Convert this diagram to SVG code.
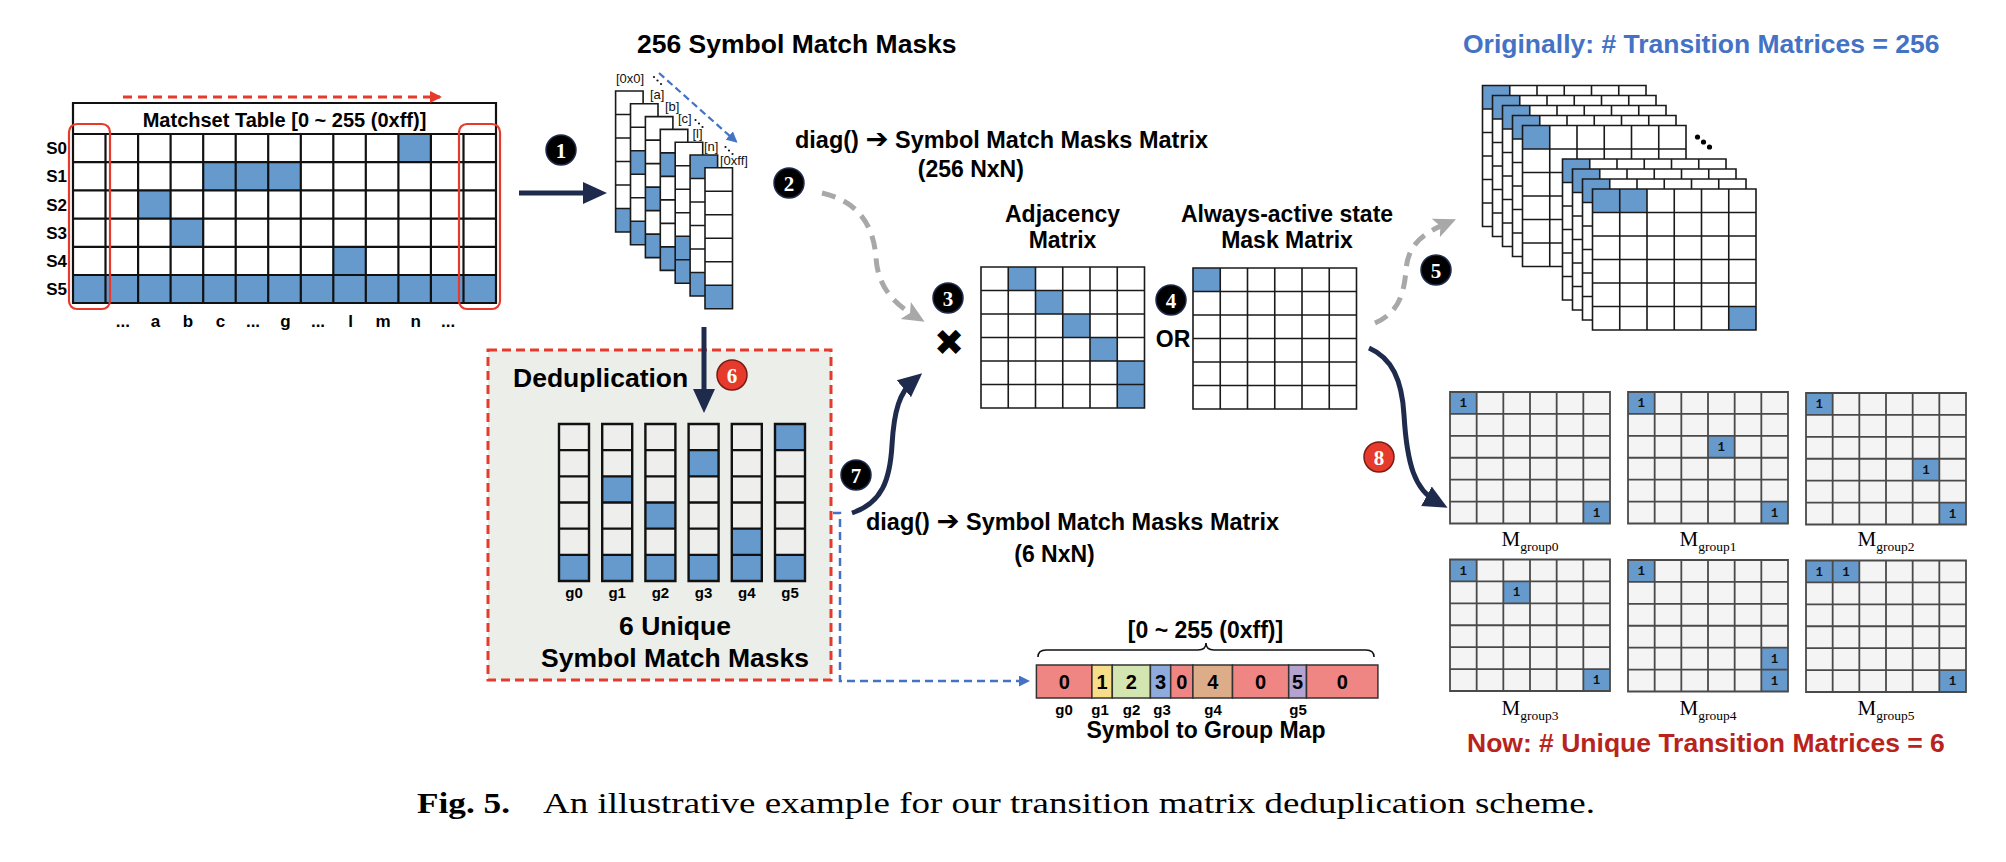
<svg xmlns="http://www.w3.org/2000/svg" xmlns:xlink="http://www.w3.org/1999/xlink" width="2006" height="862" viewBox="0 0 2006 862">
<style>
.b{font-family:"Liberation Sans",Arial,sans-serif;font-weight:bold;fill:#000}
.t26{font-size:26.5px}
.t23{font-size:23px}
.t20{font-size:20px}
.t17{font-size:17px}
.t15{font-size:15px}
.lbl{font-family:"Liberation Sans",Arial,sans-serif;font-size:13px;fill:#111}
.num{font-family:"Liberation Serif","Times New Roman",serif;font-weight:bold;font-size:21px;fill:#fff;text-anchor:middle}
.one{font-family:"Liberation Mono","Courier New",monospace;font-weight:bold;font-size:12px;fill:#111;text-anchor:middle}
.ms{font-family:"Liberation Serif","Times New Roman",serif;fill:#000;text-anchor:middle}
.arr{font-family:"DejaVu Sans",sans-serif;font-size:27px;font-weight:bold}
.blue{fill:#6699CC}
.w{fill:#fff}
.mc{fill:#F4F4F4}
.gline{fill:none;stroke:#1a1a1a;stroke-width:1.6}
.mline{fill:none;stroke:#4a4a4a;stroke-width:1.8}
.cline{fill:none;stroke:#111;stroke-width:2.4}
.mid{text-anchor:middle}
.navy{fill:none;stroke:#1F2B4D;stroke-width:5}
.gray{fill:none;stroke:#A8A8A8;stroke-width:5;stroke-dasharray:14 9}
</style>
<defs>
<path id="grid6" class="gline" d="M27.25,0V141M54.5,0V141M81.75,0V141M109,0V141M136.25,0V141M0,23.5H163.5M0,47H163.5M0,70.5H163.5M0,94H163.5M0,117.5H163.5M0,0H163.5V141H0Z"/>
<path id="gridM" class="mline" d="M26.67,0V131.5M53.33,0V131.5M80,0V131.5M106.67,0V131.5M133.33,0V131.5M0,21.92H160M0,43.83H160M0,65.75H160M0,87.67H160M0,109.58H160M0,0H160V131.5H0Z"/>
<path id="col7" class="gline" d="M0,23.5H27.5M0,47H27.5M0,70.5H27.5M0,94H27.5M0,117.5H27.5M0,0H27.5V141H0Z"/>
<path id="colg" class="cline" d="M0,26.17H30M0,52.33H30M0,78.5H30M0,104.67H30M0,130.83H30M0,0H30V157H0Z"/>
<marker id="hNavy" markerUnits="userSpaceOnUse" markerWidth="24" markerHeight="24" viewBox="0 0 24 24" refX="12" refY="12" orient="auto"><path d="M0,1L24,12L0,23Z" fill="#1F2B4D"/></marker>
<marker id="hGray" markerUnits="userSpaceOnUse" markerWidth="22" markerHeight="22" viewBox="0 0 22 22" refX="10" refY="11" orient="auto"><path d="M0,1L22,11L0,21L5,11Z" fill="#A8A8A8"/></marker>
<marker id="hRed" markerUnits="userSpaceOnUse" markerWidth="12" markerHeight="12" viewBox="0 0 12 12" refX="10" refY="6" orient="auto"><path d="M0,0L12,6L0,12Z" fill="#E53A2C"/></marker>
<marker id="hBlue" markerUnits="userSpaceOnUse" markerWidth="11" markerHeight="11" viewBox="0 0 11 11" refX="9" refY="5.5" orient="auto"><path d="M0,0L11,5.5L0,11Z" fill="#4472C4"/></marker>
</defs>
<rect width="2006" height="862" fill="#fff"/>

<!-- Matchset table -->
<g id="matchset">
<rect x="73" y="103" width="423" height="200" class="w"/>
<rect x="398.4" y="134" width="32.5" height="28.2" class="blue"/>
<rect x="203.2" y="162.2" width="97.6" height="28.2" class="blue"/>
<rect x="138.1" y="190.4" width="32.5" height="28.2" class="blue"/>
<rect x="170.6" y="218.6" width="32.5" height="28.2" class="blue"/>
<rect x="333.3" y="246.8" width="32.5" height="28.2" class="blue"/>
<rect x="73" y="275" width="423" height="28" class="blue"/>
<path fill="none" stroke="#111" stroke-width="2.2" d="M73,134H496M73,162.2H496M73,190.4H496M73,218.6H496M73,246.8H496M73,275H496M105.5,134V303M138.1,134V303M170.6,134V303M203.2,134V303M235.7,134V303M268.2,134V303M300.8,134V303M333.3,134V303M365.8,134V303M398.4,134V303M430.9,134V303M463.5,134V303M73,103H496V303H73Z"/>
<text x="284.5" y="127" class="b t20 mid">Matchset Table [0 ~ 255 (0xff)]</text>
<g class="b t17" text-anchor="end">
<text x="67" y="154">S0</text><text x="67" y="182">S1</text><text x="67" y="210.5">S2</text><text x="67" y="238.5">S3</text><text x="67" y="267">S4</text><text x="67" y="295">S5</text>
</g>
<g class="b t17 mid">
<text x="122.8" y="327">...</text><text x="155.4" y="327">a</text><text x="187.9" y="327">b</text><text x="220.4" y="327">c</text><text x="253" y="327">...</text><text x="285.5" y="327">g</text><text x="318" y="327">...</text><text x="350.6" y="327">l</text><text x="383.1" y="327">m</text><text x="415.7" y="327">n</text><text x="448.2" y="327">...</text>
</g>
<rect x="69" y="124" width="41" height="185" rx="8" fill="none" stroke="#E53A2C" stroke-width="2.2"/>
<rect x="459" y="124" width="41" height="185" rx="8" fill="none" stroke="#E53A2C" stroke-width="2.2"/>
</g>

<!-- 256 symbol match masks -->
<g id="masks256">
<text x="637" y="53" class="b t26">256 Symbol Match Masks</text>
<rect x="615.6" y="91" width="27.5" height="141" class="w"/><rect x="615.6" y="208.5" width="27.5" height="23.5" class="blue"/><use xlink:href="#col7" x="615.6" y="91"/>
<rect x="630.5" y="103.8" width="27.5" height="141" class="w"/><rect x="630.5" y="150.8" width="27.5" height="23.5" class="blue"/><rect x="630.5" y="221.3" width="27.5" height="23.5" class="blue"/><use xlink:href="#col7" x="630.5" y="103.8"/>
<rect x="645.4" y="116.6" width="27.5" height="141" class="w"/><rect x="645.4" y="187.1" width="27.5" height="23.5" class="blue"/><rect x="645.4" y="234.1" width="27.5" height="23.5" class="blue"/><use xlink:href="#col7" x="645.4" y="116.6"/>
<rect x="660.3" y="129.4" width="27.5" height="141" class="w"/><rect x="660.3" y="152.9" width="27.5" height="23.5" class="blue"/><rect x="660.3" y="246.9" width="27.5" height="23.5" class="blue"/><use xlink:href="#col7" x="660.3" y="129.4"/>
<rect x="675.2" y="142.2" width="27.5" height="141" class="w"/><rect x="675.2" y="236.2" width="27.5" height="23.5" class="blue"/><rect x="675.2" y="259.7" width="27.5" height="23.5" class="blue"/><use xlink:href="#col7" x="675.2" y="142.2"/>
<rect x="690.1" y="155" width="27.5" height="141" class="w"/><rect x="690.1" y="155" width="27.5" height="23.5" class="blue"/><rect x="690.1" y="272.5" width="27.5" height="23.5" class="blue"/><use xlink:href="#col7" x="690.1" y="155"/>
<rect x="705" y="167.8" width="27.5" height="141" class="w"/><rect x="705" y="285.3" width="27.5" height="23.5" class="blue"/><use xlink:href="#col7" x="705" y="167.8"/>
<text x="616" y="83" class="lbl">[0x0]</text>
<text x="650" y="99" class="lbl">[a]</text>
<text x="665" y="111" class="lbl">[b]</text>
<text x="678" y="123" class="lbl">[c]</text>
<text x="692.5" y="138" class="lbl">[l]</text>
<text x="704" y="151" class="lbl">[n]</text>
<text x="720" y="165" class="lbl">[0xff]</text>
<g fill="#111"><circle cx="654" cy="77" r="1.1"/><circle cx="657.5" cy="80.5" r="1.1"/><circle cx="661" cy="84" r="1.1"/><circle cx="695.5" cy="120" r="1.1"/><circle cx="699" cy="123.5" r="1.1"/><circle cx="702.5" cy="127" r="1.1"/><circle cx="725.5" cy="147" r="1.1"/><circle cx="729" cy="150.5" r="1.1"/><circle cx="732.5" cy="154" r="1.1"/></g>
</g>

<!-- Adjacency matrix -->
<g id="adjacency">
<text x="1062.5" y="222" class="b t23 mid">Adjacency</text>
<text x="1062.5" y="248" class="b t23 mid">Matrix</text>
<rect x="981" y="267" width="163.5" height="141" class="w"/>
<rect x="1008.25" y="267" width="27.25" height="23.5" class="blue"/>
<rect x="1035.5" y="290.5" width="27.25" height="23.5" class="blue"/>
<rect x="1062.75" y="314" width="27.25" height="23.5" class="blue"/>
<rect x="1090" y="337.5" width="27.25" height="23.5" class="blue"/>
<rect x="1117.25" y="361" width="27.25" height="23.5" class="blue"/>
<rect x="1117.25" y="384.5" width="27.25" height="23.5" class="blue"/>
<use xlink:href="#grid6" x="981" y="267"/>
</g>

<!-- Always-active mask matrix -->
<g id="maskmatrix">
<text x="1287" y="222" class="b t23 mid">Always-active state</text>
<text x="1287" y="248" class="b t23 mid">Mask Matrix</text>
<rect x="1193" y="268" width="163.5" height="141" class="w"/>
<rect x="1193" y="268" width="27.25" height="23.5" class="blue"/>
<use xlink:href="#grid6" x="1193" y="268"/>
</g>

<!-- operators -->
<g id="operators">
<text x="949" y="355" class="mid" font-family="DejaVu Sans,sans-serif" font-size="36" fill="#000">✖</text>
<text x="1173" y="347" class="b t23 mid">OR</text>
</g>

<!-- Original 256 transition matrices -->
<g id="original">
<text x="1463" y="53" class="b t26" style="fill:#4472C4">Originally: # Transition Matrices = 256</text>
<rect x="1482.5" y="85.5" width="163.5" height="141" class="w"/><rect x="1482.5" y="85.5" width="27.25" height="23.5" class="blue"/><use xlink:href="#grid6" x="1482.5" y="85.5"/>
<rect x="1492.5" y="95.5" width="163.5" height="141" class="w"/><rect x="1492.5" y="95.5" width="27.25" height="23.5" class="blue"/><use xlink:href="#grid6" x="1492.5" y="95.5"/>
<rect x="1502.5" y="105.5" width="163.5" height="141" class="w"/><rect x="1502.5" y="105.5" width="27.25" height="23.5" class="blue"/><use xlink:href="#grid6" x="1502.5" y="105.5"/>
<rect x="1512.5" y="115.5" width="163.5" height="141" class="w"/><rect x="1512.5" y="115.5" width="27.25" height="23.5" class="blue"/><use xlink:href="#grid6" x="1512.5" y="115.5"/>
<rect x="1522.5" y="125.5" width="163.5" height="141" class="w"/><rect x="1522.5" y="125.5" width="27.25" height="23.5" class="blue"/><use xlink:href="#grid6" x="1522.5" y="125.5"/>
<g fill="#000"><circle cx="1697.5" cy="137" r="2.6"/><circle cx="1703.5" cy="142" r="2.6"/><circle cx="1709.5" cy="147" r="2.6"/></g>
<rect x="1562.5" y="159" width="163.5" height="141" class="w"/><rect x="1562.5" y="159" width="27.25" height="23.5" class="blue"/><use xlink:href="#grid6" x="1562.5" y="159"/>
<rect x="1572.5" y="169" width="163.5" height="141" class="w"/><rect x="1572.5" y="169" width="27.25" height="23.5" class="blue"/><use xlink:href="#grid6" x="1572.5" y="169"/>
<rect x="1582.5" y="179" width="163.5" height="141" class="w"/><rect x="1582.5" y="179" width="27.25" height="23.5" class="blue"/><use xlink:href="#grid6" x="1582.5" y="179"/>
<rect x="1592.5" y="189" width="163.5" height="141" class="w"/><rect x="1592.5" y="189" width="54.5" height="23.5" class="blue"/><rect x="1728.75" y="306.5" width="27.25" height="23.5" class="blue"/><use xlink:href="#grid6" x="1592.5" y="189"/>
</g>

<!-- Deduplication box -->
<g id="dedup">
<rect x="488" y="350" width="343" height="330" fill="#ECEEEA" stroke="#E53A2C" stroke-width="3" stroke-dasharray="9 5"/>
<text x="513" y="387" class="b t26">Deduplication</text>
<rect x="559" y="424" width="30" height="157" fill="#EEEFEC"/><rect x="559" y="554.83" width="30" height="26.17" class="blue"/><use xlink:href="#colg" x="559" y="424"/>
<rect x="602.2" y="424" width="30" height="157" fill="#EEEFEC"/><rect x="602.2" y="476.33" width="30" height="26.17" class="blue"/><rect x="602.2" y="554.83" width="30" height="26.17" class="blue"/><use xlink:href="#colg" x="602.2" y="424"/>
<rect x="645.4" y="424" width="30" height="157" fill="#EEEFEC"/><rect x="645.4" y="502.5" width="30" height="26.17" class="blue"/><rect x="645.4" y="554.83" width="30" height="26.17" class="blue"/><use xlink:href="#colg" x="645.4" y="424"/>
<rect x="688.6" y="424" width="30" height="157" fill="#EEEFEC"/><rect x="688.6" y="450.17" width="30" height="26.17" class="blue"/><rect x="688.6" y="554.83" width="30" height="26.17" class="blue"/><use xlink:href="#colg" x="688.6" y="424"/>
<rect x="731.8" y="424" width="30" height="157" fill="#EEEFEC"/><rect x="731.8" y="528.67" width="30" height="26.17" class="blue"/><rect x="731.8" y="554.83" width="30" height="26.17" class="blue"/><use xlink:href="#colg" x="731.8" y="424"/>
<rect x="775" y="424" width="30" height="157" fill="#EEEFEC"/><rect x="775" y="424" width="30" height="26.17" class="blue"/><rect x="775" y="554.83" width="30" height="26.17" class="blue"/><use xlink:href="#colg" x="775" y="424"/>
<g class="b t15 mid"><text x="574" y="598">g0</text><text x="617.2" y="598">g1</text><text x="660.4" y="598">g2</text><text x="703.6" y="598">g3</text><text x="746.8" y="598">g4</text><text x="790" y="598">g5</text></g>
<text x="675" y="635" class="b t26 mid">6 Unique</text>
<text x="675" y="667" class="b t26 mid">Symbol Match Masks</text>
</g>

<!-- diag labels -->
<g id="diag256">
<text x="795" y="148" class="b t23" textLength="413" lengthAdjust="spacingAndGlyphs">diag() <tspan class="arr">➔</tspan> Symbol Match Masks Matrix</text>
<text x="970.8" y="177" class="b t23 mid">(256 NxN)</text>
</g>
<g id="diag6">
<text x="866" y="530" class="b t23" textLength="413" lengthAdjust="spacingAndGlyphs">diag() <tspan class="arr">➔</tspan> Symbol Match Masks Matrix</text>
<text x="1054.5" y="562" class="b t23 mid">(6 NxN)</text>
</g>

<!-- Symbol to group map -->
<g id="groupmap">
<text x="1205.5" y="638" class="b t23 mid">[0 ~ 255 (0xff)]</text>
<path d="M1038,657Q1038,650 1046,650L1198,650Q1206,650 1206,643Q1206,650 1214,650L1366,650Q1374,650 1374,657" fill="none" stroke="#111" stroke-width="1.6"/>
<g stroke="#333" stroke-width="1.5">
<rect x="1036.4" y="665" width="55.5" height="33" fill="#EF8683"/>
<rect x="1091.9" y="665" width="20.4" height="33" fill="#F9DE89"/>
<rect x="1112.3" y="665" width="38.1" height="33" fill="#D3E6B1"/>
<rect x="1150.4" y="665" width="20.3" height="33" fill="#8FAADC"/>
<rect x="1170.7" y="665" width="22.2" height="33" fill="#EF8683"/>
<rect x="1192.9" y="665" width="39.6" height="33" fill="#DDAD8A"/>
<rect x="1232.5" y="665" width="56.2" height="33" fill="#EF8683"/>
<rect x="1288.7" y="665" width="17.8" height="33" fill="#B4A3D0"/>
<rect x="1306.5" y="665" width="71.4" height="33" fill="#EF8683"/>
</g>
<g class="b t20 mid">
<text x="1064.2" y="689">0</text><text x="1102.1" y="689">1</text><text x="1131.4" y="689">2</text><text x="1160.6" y="689">3</text><text x="1181.8" y="689">0</text><text x="1212.7" y="689">4</text><text x="1260.6" y="689">0</text><text x="1297.6" y="689">5</text><text x="1342.2" y="689">0</text>
</g>
<g class="b t15 mid"><text x="1064" y="715">g0</text><text x="1100" y="715">g1</text><text x="1131.5" y="715">g2</text><text x="1162" y="715">g3</text><text x="1213" y="715">g4</text><text x="1298" y="715">g5</text></g>
<text x="1206" y="738" class="b t23 mid">Symbol to Group Map</text>
</g>

<!-- Unique transition matrices -->
<g id="mgroup0">
<rect x="1450" y="392" width="160" height="131.5" class="mc"/>
<rect x="1450" y="392" width="26.67" height="21.92" class="blue"/><rect x="1583.33" y="501.58" width="26.67" height="21.92" class="blue"/>
<use xlink:href="#gridM" x="1450" y="392"/>
<text x="1463.3" y="407" class="one">1</text><text x="1596.7" y="516.5" class="one">1</text>
<text x="1530" y="546" class="ms" font-size="21">M<tspan font-size="13.5" dy="5">group0</tspan></text>
</g>
<g id="mgroup1">
<rect x="1628" y="392" width="160" height="131.5" class="mc"/>
<rect x="1628" y="392" width="26.67" height="21.92" class="blue"/><rect x="1708" y="435.83" width="26.67" height="21.92" class="blue"/><rect x="1761.33" y="501.58" width="26.67" height="21.92" class="blue"/>
<use xlink:href="#gridM" x="1628" y="392"/>
<text x="1641.3" y="407" class="one">1</text><text x="1721.3" y="450.8" class="one">1</text><text x="1774.7" y="516.5" class="one">1</text>
<text x="1708" y="546" class="ms" font-size="21">M<tspan font-size="13.5" dy="5">group1</tspan></text>
</g>
<g id="mgroup2">
<rect x="1806" y="393" width="160" height="131.5" class="mc"/>
<rect x="1806" y="393" width="26.67" height="21.92" class="blue"/><rect x="1912.67" y="458.75" width="26.67" height="21.92" class="blue"/><rect x="1939.33" y="502.58" width="26.67" height="21.92" class="blue"/>
<use xlink:href="#gridM" x="1806" y="393"/>
<text x="1819.3" y="408" class="one">1</text><text x="1926" y="473.7" class="one">1</text><text x="1952.7" y="517.5" class="one">1</text>
<text x="1886" y="546" class="ms" font-size="21">M<tspan font-size="13.5" dy="5">group2</tspan></text>
</g>
<g id="mgroup3">
<rect x="1450" y="559.5" width="160" height="131.5" class="mc"/>
<rect x="1450" y="559.5" width="26.67" height="21.92" class="blue"/><rect x="1503.33" y="581.42" width="26.67" height="21.92" class="blue"/><rect x="1583.33" y="669.08" width="26.67" height="21.92" class="blue"/>
<use xlink:href="#gridM" x="1450" y="559.5"/>
<text x="1463.3" y="574.5" class="one">1</text><text x="1516.7" y="596.4" class="one">1</text><text x="1596.7" y="684" class="one">1</text>
<text x="1530" y="715" class="ms" font-size="21">M<tspan font-size="13.5" dy="5">group3</tspan></text>
</g>
<g id="mgroup4">
<rect x="1628" y="560" width="160" height="131.5" class="mc"/>
<rect x="1628" y="560" width="26.67" height="21.92" class="blue"/><rect x="1761.33" y="647.67" width="26.67" height="21.92" class="blue"/><rect x="1761.33" y="669.58" width="26.67" height="21.92" class="blue"/>
<use xlink:href="#gridM" x="1628" y="560"/>
<text x="1641.3" y="575" class="one">1</text><text x="1774.7" y="662.6" class="one">1</text><text x="1774.7" y="684.5" class="one">1</text>
<text x="1708" y="715" class="ms" font-size="21">M<tspan font-size="13.5" dy="5">group4</tspan></text>
</g>
<g id="mgroup5">
<rect x="1806" y="560.5" width="160" height="131.5" class="mc"/>
<rect x="1806" y="560.5" width="53.33" height="21.92" class="blue"/><rect x="1939.33" y="670.08" width="26.67" height="21.92" class="blue"/>
<use xlink:href="#gridM" x="1806" y="560.5"/>
<text x="1819.3" y="575.5" class="one">1</text><text x="1846" y="575.5" class="one">1</text><text x="1952.7" y="685" class="one">1</text>
<text x="1886" y="715" class="ms" font-size="21">M<tspan font-size="13.5" dy="5">group5</tspan></text>
</g>
<g id="now">
<text x="1467" y="752" class="b t26" style="fill:#B8241C">Now: # Unique Transition Matrices = 6</text>
</g>

<!-- connectors -->
<g id="connectors">
<path d="M123,97H440" fill="none" stroke="#E53A2C" stroke-width="3" stroke-dasharray="9 6" marker-end="url(#hRed)"/>
<path d="M659,73L736,141.5" fill="none" stroke="#4472C4" stroke-width="2.2" stroke-dasharray="7 4" marker-end="url(#hBlue)"/>
<path d="M519,193H595" class="navy" marker-end="url(#hNavy)"/>
<path d="M704,327V401" class="navy" marker-end="url(#hNavy)"/>
<path d="M822,193C862,202 874,230 876,258C878,288 895,304 914.3,315.6" class="gray" marker-end="url(#hGray)"/>
<path d="M1375,323C1398,313 1404,295 1406,270C1408,245 1422,234 1445,224" class="gray" marker-end="url(#hGray)"/>
<path d="M852,513C882,503 890,480 892,445C894,410 900,392 913,381" class="navy" marker-end="url(#hNavy)"/>
<path d="M1369,348C1392,358 1402,380 1404,415C1407,465 1415,490 1437,502" class="navy" marker-end="url(#hNavy)"/>
<path d="M833,513H840V681H1028" fill="none" stroke="#4472C4" stroke-width="2.5" stroke-dasharray="8 5" marker-end="url(#hBlue)"/>
</g>

<!-- step numbers -->
<g id="steps">
<circle cx="561" cy="150" r="15" fill="#000" stroke="#1F2B4D" stroke-width="1.5"/><text x="561" y="157.5" class="num">1</text>
<circle cx="789" cy="183" r="15" fill="#000" stroke="#1F2B4D" stroke-width="1.5"/><text x="789" y="190.5" class="num">2</text>
<circle cx="948" cy="298" r="15" fill="#000" stroke="#1F2B4D" stroke-width="1.5"/><text x="948" y="305.5" class="num">3</text>
<circle cx="1171" cy="300" r="15" fill="#000" stroke="#1F2B4D" stroke-width="1.5"/><text x="1171" y="307.5" class="num">4</text>
<circle cx="1436" cy="270" r="15" fill="#000" stroke="#1F2B4D" stroke-width="1.5"/><text x="1436" y="277.5" class="num">5</text>
<circle cx="732" cy="375" r="15" fill="#E53A2C" stroke="#7a1a14" stroke-width="1.5"/><text x="732" y="382.5" class="num">6</text>
<circle cx="856" cy="475" r="15" fill="#000" stroke="#1F2B4D" stroke-width="1.5"/><text x="856" y="482.5" class="num">7</text>
<circle cx="1379" cy="457" r="15" fill="#E53A2C" stroke="#7a1a14" stroke-width="1.5"/><text x="1379" y="464.5" class="num">8</text>
</g>

<!-- caption -->
<g id="caption">
<text x="417" y="813" font-family="Liberation Serif,Times New Roman,serif" font-weight="bold" font-size="30" textLength="93" lengthAdjust="spacingAndGlyphs">Fig. 5.</text>
<text x="543" y="813" font-family="Liberation Serif,Times New Roman,serif" font-size="29" textLength="1052" lengthAdjust="spacingAndGlyphs">An illustrative example for our transition matrix deduplication scheme.</text>
</g>
</svg>
